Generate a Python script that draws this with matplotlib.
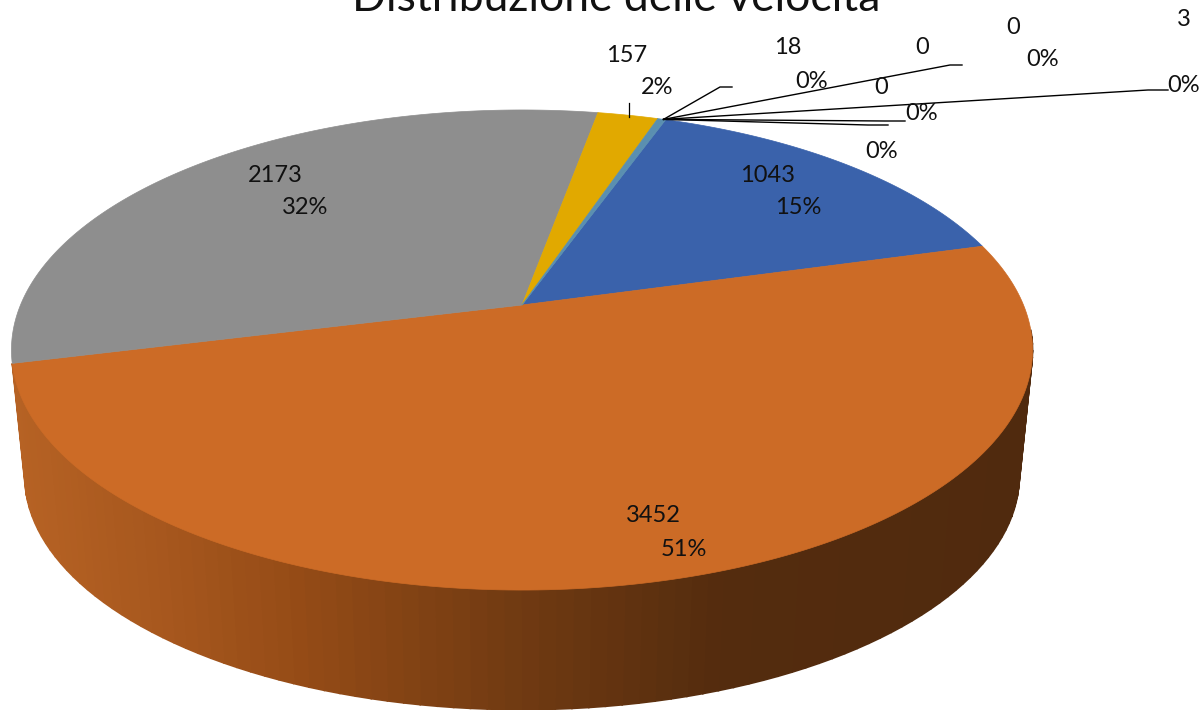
import numpy as np
import matplotlib
matplotlib.use('Agg')
import matplotlib.pyplot as plt
from matplotlib.patches import Polygon

# data
values = [1043, 3452, 2173, 157, 18, 0, 0, 0, 3]
value_labels = ['1043', '3452', '2173', '157', '18', '0', '0', '0', '3']
pct_labels = ['15%', '51%', '32%', '2%', '0%', '0%', '0%', '0%', '0%']
title = 'Distribuzione delle velocità'

# styles / layout, in pixels of the 1204x710 picture
colors = ['#3a62ab', '#cc6b26', '#8e8e8e', '#e1a900', '#5a8fb0', '#5a8fb0', '#5a8fb0', '#5a8fb0', '#5a8fb0']
first_angle = 19.7
value_pos = [(768, 175), (653, 516), (275, 175), (627, 56), (788, 47), (922, 47), (1013, 27), (881, 87), (1184, 19)]
pct_pos = [(798, 208), (684, 550), (305, 208), (657, 88), (812, 81), (1043, 59), (922, 114), (882, 151), (1184, 85)]
leader_ends = [None, None, None, None, (720, 87, 732, 87), (950, 65, 962, 65), (885, 121, 905, 121), (868, 125, 888, 125), (1148, 90, 1168, 90)]

plt.rcParams['font.family'] = ['Lato', 'DejaVu Sans']

fig = plt.figure(figsize=(12.04, 7.10), dpi=100)
ax = fig.add_axes([0, 0, 1, 1])
ax.set_xlim(0, 1204)
ax.set_ylim(710, 0)
ax.axis('off')


# circle angle (deg, clockwise from top) -> picture position, with perspective
def project(angle, cy=305.0, scale=1.0):
    a = np.radians(angle)
    u, v = np.sin(a), np.cos(a)
    w = 1 + 0.1875 * v
    return 522 + 501.5 * scale * u / w, cy - 231.6 * scale * v / w


def side_color(x):
    r = np.interp(x, [12, 150, 300, 520, 720, 1030], [182, 168, 148, 112, 84, 80])
    g = np.interp(x, [12, 150, 300, 520, 720, 1030], [98, 88, 75, 58, 44, 42])
    b = np.interp(x, [12, 150, 300, 520, 720, 1030], [36, 30, 22, 18, 14, 14])
    return (r / 255, g / 255, b / 255)


total = sum(values)
edges = first_angle + np.concatenate([[0], np.cumsum(values)]) / total * 360

# side wall, only the slice facing the viewer shows one
# starts past the right extreme so nothing sticks out behind the top face
steps = np.linspace(max(edges[1], 96), edges[2], 100)
for a0, a1 in zip(steps[:-1], steps[1:]):
    x0, y0 = project(a0)
    x1, y1 = project(a1)
    x2, y2 = project(a1, cy=432.0, scale=0.974)
    x3, y3 = project(a0, cy=432.0, scale=0.974)
    c = side_color((x0 + x1) / 2)
    ax.add_patch(Polygon([(x0, y0), (x1, y1), (x2, y2), (x3, y3)],
                         closed=True, fc=c, ec=c, lw=1.2))

# top face
for i in range(len(values)):
    if values[i] == 0:
        continue
    t = np.linspace(edges[i], edges[i + 1], 200)
    px, py = project(t)
    pts = [(522, 305)] + list(zip(px, py))
    ax.add_patch(Polygon(pts, closed=True, fc=colors[i], ec=colors[i], lw=0.5))

# leader lines
ax.plot([629, 629], [103, 117], color='black', lw=0.9)
sx, sy = project(first_angle - 0.3)
for end in leader_ends:
    if end is None:
        continue
    ax.plot([sx, end[0], end[2]], [sy, end[1], end[3]], color='black', lw=1.0, solid_joinstyle='round')

# labels
for i in range(len(values)):
    ax.text(value_pos[i][0], value_pos[i][1], value_labels[i], ha='center', va='center',
            fontsize=17, color='#111111')
    ax.text(pct_pos[i][0], pct_pos[i][1], pct_labels[i], ha='center', va='center',
            fontsize=17, color='#111111')

ax.text(616, 11, title, ha='center', va='baseline', fontsize=32, color='#111111')

fig.savefig('out.png', dpi=100)
